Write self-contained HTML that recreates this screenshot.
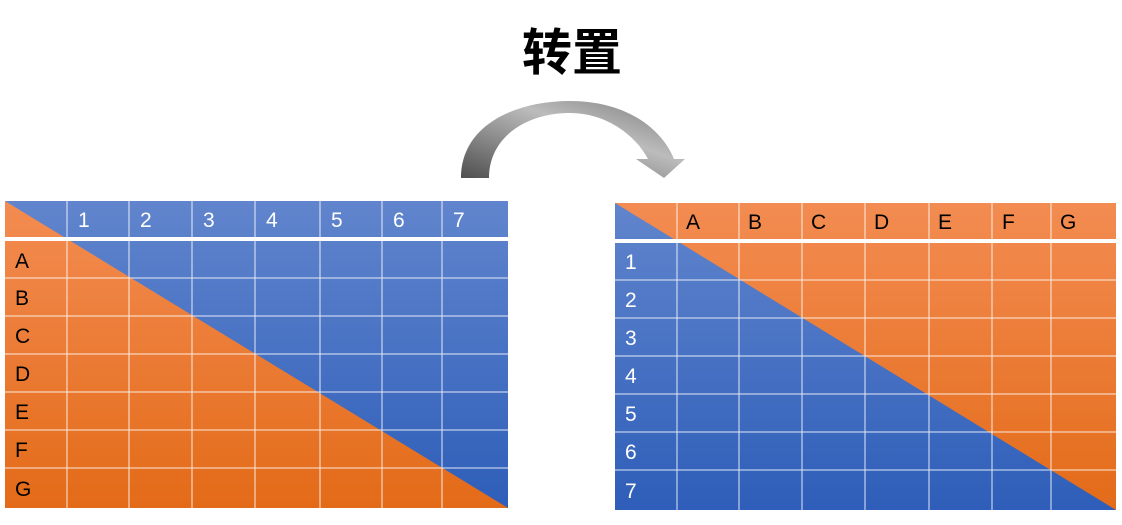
<!DOCTYPE html>
<html><head><meta charset="utf-8"><style>
body{margin:0;width:1122px;height:520px;background:#fff;overflow:hidden}
</style></head><body>
<svg width="1122" height="520" xmlns="http://www.w3.org/2000/svg" font-family="Liberation Sans, Noto Sans CJK SC, sans-serif">
<defs>
<linearGradient id="bl" x1="0" y1="0" x2="0" y2="1"><stop offset="0" stop-color="#6185cd"/><stop offset="1" stop-color="#2e5eb9"/></linearGradient>
<linearGradient id="or" x1="0" y1="0" x2="0" y2="1"><stop offset="0" stop-color="#f38c52"/><stop offset="1" stop-color="#e36b18"/></linearGradient>
<linearGradient id="ar" x1="0" y1="1" x2="1" y2="0"><stop offset="0" stop-color="#4f4f4f"/><stop offset="0.6" stop-color="#bcbcbc"/><stop offset="1" stop-color="#7a7a7a"/></linearGradient>
</defs>
<text x="572" y="70" font-size="50" font-weight="bold" text-anchor="middle" fill="#000" font-family="Noto Sans CJK SC, sans-serif">转置</text>
<path d="M461,178 C461,125 515,101 570,101 C622,101 660,125 674,159 L685,159 L664,178 L636,159 L648,159 C634,133 604,113 570,113 C525,113 489,138 489,178 Z" fill="url(#ar)"/>
<!-- left table -->
<g>
<rect x="5" y="201" width="503" height="307" fill="url(#bl)"/>
<polygon points="5,201 508,508 5,508" fill="url(#or)"/>
<g stroke="#fff" stroke-width="1" opacity="0.85">
<line x1="67" y1="201" x2="67" y2="508"/><line x1="129" y1="201" x2="129" y2="508"/><line x1="192" y1="201" x2="192" y2="508"/><line x1="255" y1="201" x2="255" y2="508"/><line x1="320" y1="201" x2="320" y2="508"/><line x1="382" y1="201" x2="382" y2="508"/><line x1="442" y1="201" x2="442" y2="508"/>
<line x1="5" y1="278" x2="508" y2="278"/><line x1="5" y1="316" x2="508" y2="316"/><line x1="5" y1="354" x2="508" y2="354"/><line x1="5" y1="392" x2="508" y2="392"/><line x1="5" y1="430" x2="508" y2="430"/><line x1="5" y1="468" x2="508" y2="468"/>
</g>
<rect x="5" y="237" width="503" height="4" fill="#fff"/>
<g font-size="21" fill="#fff">
<text x="78" y="227">1</text><text x="140" y="227">2</text><text x="203" y="227">3</text><text x="266" y="227">4</text><text x="331" y="227">5</text><text x="393" y="227">6</text><text x="453" y="227">7</text>
</g>
<g font-size="21" fill="#000">
<text x="15" y="268">A</text><text x="15" y="305">B</text><text x="15" y="343">C</text><text x="15" y="381">D</text><text x="15" y="419">E</text><text x="15" y="457">F</text><text x="15" y="496">G</text>
</g>
</g>
<!-- right table -->
<g>
<rect x="615" y="203" width="501" height="307" fill="url(#bl)"/>
<polygon points="615,203 1116,203 1116,510" fill="url(#or)"/>
<g stroke="#fff" stroke-width="1" opacity="0.85">
<line x1="677" y1="203" x2="677" y2="510"/><line x1="739" y1="203" x2="739" y2="510"/><line x1="802" y1="203" x2="802" y2="510"/><line x1="865" y1="203" x2="865" y2="510"/><line x1="929" y1="203" x2="929" y2="510"/><line x1="992" y1="203" x2="992" y2="510"/><line x1="1051" y1="203" x2="1051" y2="510"/>
<line x1="615" y1="280" x2="1116" y2="280"/><line x1="615" y1="318" x2="1116" y2="318"/><line x1="615" y1="356" x2="1116" y2="356"/><line x1="615" y1="394" x2="1116" y2="394"/><line x1="615" y1="432" x2="1116" y2="432"/><line x1="615" y1="470" x2="1116" y2="470"/>
</g>
<rect x="615" y="239" width="501" height="4" fill="#fff"/>
<g font-size="21" fill="#000">
<text x="686" y="229">A</text><text x="748" y="229">B</text><text x="811" y="229">C</text><text x="874" y="229">D</text><text x="938" y="229">E</text><text x="1002" y="229">F</text><text x="1060" y="229">G</text>
</g>
<g font-size="21" fill="#fff">
<text x="625" y="269">1</text><text x="625" y="307">2</text><text x="625" y="345">3</text><text x="625" y="383">4</text><text x="625" y="421">5</text><text x="625" y="459">6</text><text x="625" y="498">7</text>
</g>
</g>
</svg>
</body></html>
